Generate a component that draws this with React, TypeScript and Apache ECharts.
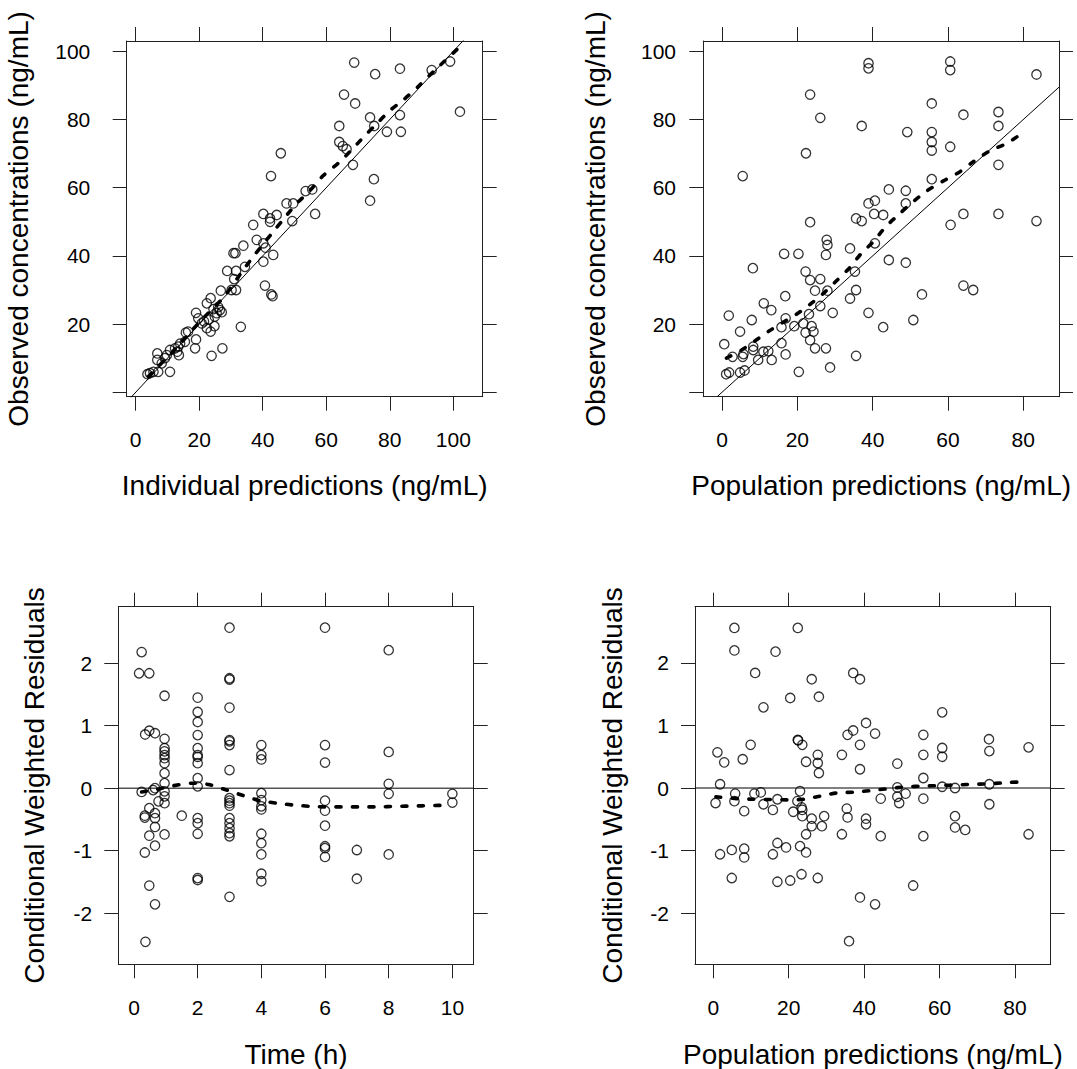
import React, { useEffect, useRef } from 'react';
import * as echarts from 'echarts';

// ---------- Panel 1: IPRED vs DV ----------
const ipredX = [68.8,75.4,83.2,93.2,99,65.6,69.1,102.1,73.8,83.2,75.1,64.1,79.1,83.5,64.1,65.2,66.4,45.7,68.4,42.6,75,53.5,55.6,73.8,47.5,49.6,
  40.2,42.3,44.4,42.3,49.3,56.5,37,38.1,40.2,40.9,33.9,43.3,40.2,30.8,31.4,34.4,28.8,31.6,31,30.2,31.6,26.8,40.7,42.7,43.1,23.6,22.4,19,26.5,25.5,24.9,19.7,20.8,24.8,22.4,33.1,15.8,16.5,23.6,19,18.7,27.3,23.9,13.4,14,13.1,13.6,10.8,9.8,9.2,6.8,6.8,8.2,10.8,7.1,5.6,4.5,3.7,15.5,12.4,24.5,26,27.1,21.5,23];
const ipredDV = [96.7,93.3,94.9,94.5,97,87.3,84.7,82.3,80.6,81.3,78.1,78.1,76.4,76.4,73.4,72.2,71.3,70.1,66.7,63.4,62.5,59,59.5,56.2,55.4,55.4,
  52.3,51,52,50,50.2,52.3,49.1,44.7,43.7,42.4,43,40.3,38.3,40.8,40.8,36.8,35.6,35.6,33.2,30,30,29.8,31.3,28.7,28.2,27.6,26.1,23.3,24.1,23.2,22.2,21.7,20.2,19.4,18.8,19.2,17.5,17.8,17.8,15.5,12.9,12.9,10.7,13.4,14.3,11.9,10.9,12.4,10.9,10,11.4,9.5,8.5,6,6,6,5.6,5.3,14.8,12.9,24.4,25,23.5,20.8,21.3];
const loess1X = [4,13.2,20,27.7,33.9,37.2,43.3,46.3,50.2,55,59,63.9,67.9,71.9,75.3,80,84.5,89.1,93.7,101.8];
const loess1Y = [4.6,13.4,20.5,27.9,35.9,40,47.1,50.5,54.9,59.3,63.5,67.3,71,75,78.2,82.6,85.9,89.8,94,101.1];

// ---------- Panel 2: PRED vs DV ----------
const predX = [38.9,38.9,60.6,60.6,83.5,23.4,26.1,55.7,64.1,73.4,73.4,37.1,49.2,55.7,55.7,55.7,60.6,22.3,73.4,5.5,55.7,44.3,48.8,40.6,38.9,48.8,
  40.4,42.8,35.6,37.1,23.4,60.7,64.1,73.4,83.5,40.6,27.8,28,34,44.3,48.8,16.5,20.3,27.6,8.2,22.2,35.3,23.4,26.1,24.7,28,35.6,34,53.1,64.1,66.7,16.8,11.1,13.1,26.1,29.4,38.9,23.1,1.8,7.9,16.9,19.2,21.6,23.8,15.8,4.8,22.2,24.3,42.8,50.8,23.4,15.8,0.6,8.3,8.3,11,12.3,24.7,27.6,5.7,2.8,5.5,16.9,9.6,13.2,35.6,28.7,20.4,1.1,1.9,4.8,6];
const predDV = [96.5,95,97,94.5,93.2,87.3,80.5,84.7,81.4,82.2,78.1,78.1,76.3,76.3,73.4,70.9,72,70.1,66.7,63.4,62.5,59.5,59.1,56.2,55.4,55.4,
  52.3,52,51,50.2,49.9,49.1,52.3,52.3,50.2,43.7,44.7,43.2,42.2,38.8,38,40.6,40.6,40.3,36.4,35.4,35.4,32.9,33.2,29.8,29.8,30,27.5,28.7,31.3,30,28.2,26.1,24.1,25.3,23.3,23.3,22.9,22.5,21.2,21.7,19.4,20.2,19.4,19.1,17.8,17.5,17.8,19.1,21.2,15.3,14.4,14.1,13.4,12.4,11.9,12.1,12.9,12.9,11.2,10.4,10.4,11.1,9.5,9.5,10.7,7.3,6,5.3,5.8,5.8,6.4];
const loess2X = [1.2,5.2,8.8,12.7,16.5,19.8,23.5,26.9,30.4,33.8,36.9,40.2,43.5,47.3,50.4,54.3,58.8,63.2,66.7,71.1,75.6,80];
const loess2Y = [10,12.4,15.1,18.1,20.7,22.9,25.9,29,32.7,36.4,40.6,44.2,48.6,52.5,55.6,59,62,64.7,67.6,70.8,73,76.2];

// ---------- Panel 3: TIME vs CWRES ----------
const timeX = [3,6,0.24,8,0.16,0.48,3,3,0.96,2,2,2,3,2,0.35,0.48,0.66,0.96,3,
  0.96,0.96,0.96,0.96,0.96,0.96,0.96,0.96,0.96,0.96,
  2,2,2,2,2,2,2,2,2,2,2,
  3,3,3,3,3,3,3,3,3,3,3,3,3,
  4,4,4,4,4,4,4,4,4,4,4,4,
  6,6,6,6,6,6,6,6,
  7,7,8,8,8,8,10,10,
  0.24,0.6,0.66,0.77,0.48,0.34,0.34,0.66,0.66,0.66,0.48,0.96,0.66,0.34,1.5,0.48,0.66,0.36];
const timeCW = [2.57,2.57,2.18,2.21,1.84,1.84,1.76,1.74,1.48,1.45,1.22,1.06,1.29,0.85,0.86,0.92,0.88,0.79,0.77,
  0.64,0.59,0.53,0.48,0.4,0.24,0.08,-0.05,-0.13,-0.24,
  0.64,0.53,0.5,0.4,0.16,0.03,-0.48,-0.56,-0.73,-1.44,-1.47,
  0.75,0.69,0.29,-0.16,-0.2,-0.24,-0.28,-0.48,-0.56,-0.64,-0.72,-0.77,-1.74,
  0.69,0.53,0.46,-0.08,-0.19,-0.29,-0.34,-0.73,-0.88,-1.06,-1.37,-1.49,
  0.69,0.41,-0.2,-0.36,-0.6,-0.93,-0.96,-1.1,
  -0.99,-1.45,0.58,0.07,-0.09,-1.06,-0.09,-0.23,
  -0.06,-0.03,0,-0.21,-0.32,-0.44,-0.47,-0.4,-0.48,-0.62,-0.76,-0.74,-0.92,-1.03,-0.44,-1.56,-1.86,-2.46];
const loess3X = [0.24,0.71,1.24,1.81,2.34,2.91,3.44,3.96,4.49,5.01,5.53,6.06,6.58,7.1,7.63,8.3,8.8,9.3,9.88];
const loess3Y = [-0.06,-0.02,0.04,0.08,0.06,-0.03,-0.12,-0.2,-0.24,-0.27,-0.29,-0.3,-0.3,-0.3,-0.3,-0.29,-0.285,-0.28,-0.27];

// ---------- Panel 4: PRED vs CWRES ----------
const pred2X = [5.6,22.4,5.6,16.5,11.1,37.1,38.9,26.1,28,20.4,13.3,60.7,40.5,37.1,35.6,42.9,55.7,73.1,22.4,
  1.1,2.9,1.8,0.6,5.8,5.6,8.2,7.8,9.9,1.8,4.9,8.2,8.2,4.9,10.9,12.6,13.3,15.8,17,17,15.8,17,19.3,20.4,22.5,23.6,24.6,27.7,27.7,28,23,22.3,21.2,23.4,23.6,23.6,26.1,26.1,28.8,29.4,24.6,23,24.6,23.4,27.7,
  34.1,38.9,38.9,35.4,35.6,34.1,40.5,40.5,44.4,44.4,38.9,42.9,36,48.8,48.8,48.8,49.3,51,53,55.7,55.7,55.7,55.7,60.7,60.7,60.7,64.1,64.1,64.1,66.8,73.2,73.2,73.2,83.6,83.6];
const pred2CW = [2.56,2.56,2.2,2.18,1.84,1.84,1.74,1.74,1.46,1.44,1.29,1.21,1.04,0.92,0.85,0.87,0.85,0.78,0.77,
  0.57,0.41,0.06,-0.24,-0.09,-0.21,-0.37,0.46,0.69,-1.06,-0.99,-0.97,-1.11,-1.44,-0.09,-0.07,-0.26,-0.35,-0.18,-0.88,-1.06,-1.5,-0.95,-1.48,0.76,0.69,0.42,0.53,0.4,0.24,-0.05,-0.21,-0.38,-0.31,-0.35,-0.45,-0.49,-0.61,-0.61,-0.45,-0.74,-0.93,-1.03,-1.38,-1.44,
  0.53,0.69,0.3,-0.33,-0.47,-0.74,-0.49,-0.58,-0.17,-0.77,-1.75,-1.86,-2.45,0.39,0.01,-0.14,-0.24,-0.09,-1.56,0.53,0.16,-0.17,-0.77,0.64,0.5,0.02,0,-0.45,-0.63,-0.67,0.59,0.06,-0.26,0.65,-0.74];
const loess4X = [0.7,6.2,10.6,15,19.5,23.9,28.3,32.7,37.6,42,46.4,51.3,55.7,60.1,65,69.4,73.8,78.7,83.1];
const loess4Y = [-0.14,-0.17,-0.18,-0.185,-0.19,-0.18,-0.13,-0.08,-0.065,-0.04,-0.01,0.02,0.03,0.04,0.05,0.06,0.07,0.09,0.1];

// ---------- Tick values ----------
const concTicks = [0, 20, 40, 60, 80, 100];
const concLabelsY = [20, 40, 60, 80, 100];
const predTicks = [0, 20, 40, 60, 80];
const timeTicks = [0, 2, 4, 6, 8, 10];
const cwresTicks = [-2, -1, 0, 1, 2];

const FONT = "'Liberation Sans', Arial, Helvetica, sans-serif";

const zip = (a: number[], b: number[]) => a.map((v, i) => [v, b[i]]);

type Panel = {
  grid: { left: number; top: number; width: number; height: number };
  xr: [number, number];
  yr: [number, number];
  xTicks: number[];
  yTicks: number[];
  yLabels: number[];
  yMargin: number;
};

const panels: Panel[] = [
  { grid: { left: 126.7, top: 41, width: 356, height: 355.7 }, xr: [-2.83, 109.26], yr: [-1.29, 103.02],
    xTicks: concTicks, yTicks: concTicks, yLabels: concLabelsY, yMargin: 36.4 },
  { grid: { left: 703.3, top: 41, width: 355.7, height: 355.7 }, xr: [-4.96, 89.48], yr: [-1.29, 103.02],
    xTicks: predTicks, yTicks: concTicks, yLabels: concLabelsY, yMargin: 27.3 },
  { grid: { left: 118.3, top: 606.7, width: 355.4, height: 357.6 }, xr: [-0.493, 10.67], yr: [-2.82, 2.906],
    xTicks: timeTicks, yTicks: cwresTicks, yLabels: cwresTicks, yMargin: 26 },
  { grid: { left: 695, top: 606.7, width: 355.7, height: 357.6 }, xr: [-4.85, 89.47], yr: [-2.82, 2.9],
    xTicks: predTicks, yTicks: cwresTicks, yLabels: cwresTicks, yMargin: 26 },
];

const lineCol = '#222';

function buildOption() {
  const grids: any[] = [];
  const xAxes: any[] = [];
  const yAxes: any[] = [];
  panels.forEach((p, i) => {
    grids.push({ ...p.grid, containLabel: false, show: false });
    const common = {
      type: 'value',
      gridIndex: i,
      splitLine: { show: false },
      axisLine: { show: true, onZero: false, lineStyle: { color: lineCol, width: 1 } },
    };
    const tick = (vals: number[]) => ({ show: true, inside: false, length: 14, customValues: vals, lineStyle: { color: lineCol, width: 1 } });
    xAxes.push({ ...common, position: 'bottom', min: p.xr[0], max: p.xr[1], axisTick: tick(p.xTicks),
      axisLabel: { show: true, customValues: p.xTicks, margin: 43, verticalAlign: 'middle', fontSize: 21, color: '#000', fontFamily: FONT } });
    xAxes.push({ ...common, position: 'top', min: p.xr[0], max: p.xr[1], axisTick: tick(p.xTicks), axisLabel: { show: false } });
    yAxes.push({ ...common, position: 'left', min: p.yr[0], max: p.yr[1], axisTick: tick(p.yTicks),
      axisLabel: { show: true, customValues: p.yLabels, margin: p.yMargin, fontSize: 21, color: '#000', fontFamily: FONT } });
    yAxes.push({ ...common, position: 'right', min: p.yr[0], max: p.yr[1], axisTick: tick(p.yTicks), axisLabel: { show: false } });
  });

  const scatter = (i: number, data: number[][]) => ({
    type: 'scatter', xAxisIndex: 2 * i, yAxisIndex: 2 * i, data, symbol: 'circle', symbolSize: 9.4, silent: true,
    itemStyle: { color: 'rgba(0,0,0,0)', borderColor: '#000', borderWidth: 1.3 }, z: 3,
  });
  const solid = (i: number, data: number[][]) => ({
    type: 'line', xAxisIndex: 2 * i, yAxisIndex: 2 * i, data, showSymbol: false, silent: true, clip: true,
    lineStyle: { color: '#000', width: 1 }, z: 2,
  });
  const dashed = (i: number, data: number[][]) => ({
    type: 'line', xAxisIndex: 2 * i, yAxisIndex: 2 * i, data, showSymbol: false, silent: true, smooth: 0.25,
    lineStyle: { color: '#000', width: 3.6, type: [5, 11.5], cap: 'round' }, z: 4,
  });

  const p1 = panels[0], p2 = panels[1], p3 = panels[2], p4 = panels[3];
  const series = [
    scatter(0, zip(ipredX, ipredDV)),
    solid(0, [[p1.xr[0], p1.xr[0]], [p1.xr[1], p1.xr[1]]]),
    dashed(0, zip(loess1X, loess1Y)),
    scatter(1, zip(predX, predDV)),
    solid(1, [[p2.yr[0], p2.yr[0]], [p2.xr[1], p2.xr[1]]]),
    dashed(1, zip(loess2X, loess2Y)),
    scatter(2, zip(timeX, timeCW)),
    solid(2, [[p3.xr[0], 0], [p3.xr[1], 0]]),
    dashed(2, zip(loess3X, loess3Y)),
    scatter(3, zip(pred2X, pred2CW)),
    solid(3, [[p4.xr[0], 0], [p4.xr[1], 0]]),
    dashed(3, zip(loess4X, loess4Y)),
  ];

  const title = (text: string, x: number, y: number, rot = 0) => ({
    type: 'text', x, y, rotation: rot, silent: true,
    style: { text, fontSize: 28, fontFamily: FONT, fill: '#000', align: 'center', verticalAlign: 'middle' },
  });

  const graphic = [
    title('Individual predictions (ng/mL)', 304.7, 485.4),
    title('Population predictions (ng/mL)', 881.2, 485.4),
    title('Time (h)', 296, 1054.6),
    title('Population predictions (ng/mL)', 872.9, 1054.6),
    title('Observed concentrations (ng/mL)', 18.6, 218.9, Math.PI / 2),
    title('Observed concentrations (ng/mL)', 595.2, 218.9, Math.PI / 2),
    title('Conditional Weighted Residuals', 34.7, 785.5, Math.PI / 2),
    title('Conditional Weighted Residuals', 612.3, 785.5, Math.PI / 2),
  ];

  return {
    animation: false,
    backgroundColor: '#fff',
    grid: grids,
    xAxis: xAxes,
    yAxis: yAxes,
    series,
    graphic,
  };
}

export default function App() {
  const ref = useRef<HTMLDivElement>(null);
  useEffect(() => {
    const chart = echarts.init(ref.current as HTMLDivElement, null, { renderer: 'svg' });
    chart.setOption(buildOption() as any);
    return () => chart.dispose();
  }, []);
  return <div ref={ref} style={{ position: 'absolute', left: 0, top: 0, width: 1077, height: 1069, background: '#fff' }} />;
}
